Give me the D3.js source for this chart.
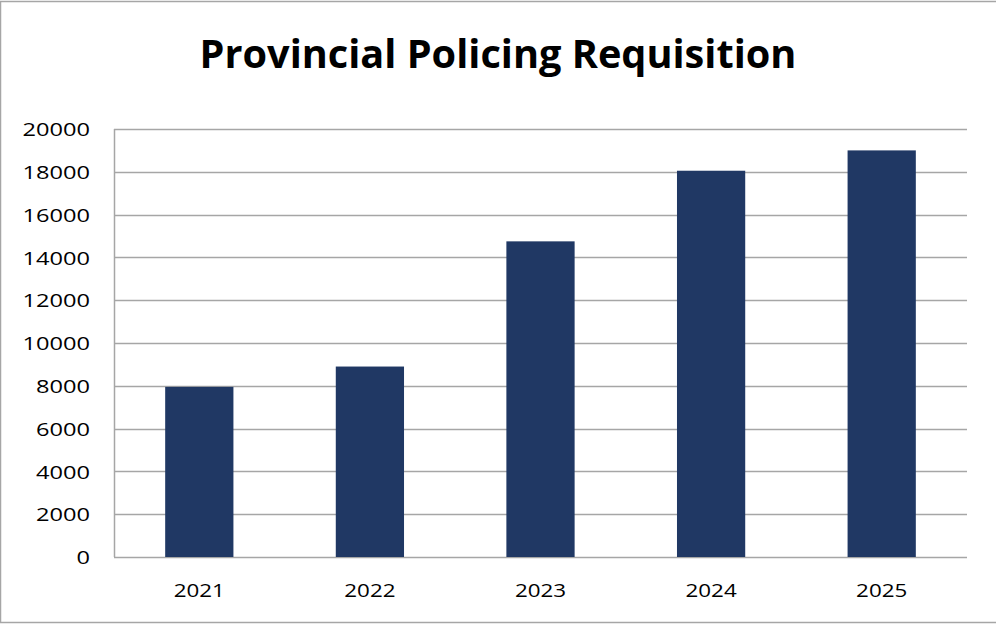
<!DOCTYPE html>
<html>
<head>
<meta charset="utf-8">
<script src="https://cdn.jsdelivr.net/npm/d3@7"></script>
<style>
  body { margin: 0; background: #fff; }
  svg { display: block; font-family: "Open Sans", "Liberation Sans", sans-serif; }
  .axis text { font-family: "Open Sans", sans-serif; font-size: 18px; fill: #000; }
  .axis path, .axis line { stroke: none; }
  .grid line { stroke: #a6a6a6; stroke-width: 1.5; }
</style>
</head>
<body>
<svg id="chart"></svg>
<script>
// Chart data
const years = ['2021', '2022', '2023', '2024', '2025'];
const requisition = [7950, 8900, 14750, 18050, 19000];
const yTicks = [0, 2000, 4000, 6000, 8000, 10000, 12000, 14000, 16000, 18000, 20000];

const width = 996, height = 624;
const margin = { top: 129, right: 29, bottom: 67, left: 114 };
const plotW = width - margin.left - margin.right;
const plotH = height - margin.top - margin.bottom;

const svg = d3.select('#chart')
    .attr('width', width)
    .attr('height', height);

// Outer chart border
svg.append('path')
    .attr('d', `M0.5,${height - 1.5} V1.5 H${width} M0,${height - 1.5} H${width}`)
    .attr('fill', 'none')
    .attr('stroke', '#a6a6a6')
    .attr('stroke-width', 1.5);

// Title, scaled to match the reference width
const title = svg.append('text')
    .attr('x', width / 2)
    .attr('y', 68)
    .attr('text-anchor', 'middle')
    .attr('font-weight', 'bold')
    .attr('font-size', 40)
    .text('Provincial Policing Requisition');
const tw = title.node().getComputedTextLength();
title.attr('font-size', 40 * 597 / tw);

const chart = svg.append('g')
    .attr('transform', `translate(${margin.left},${margin.top})`);

const x = d3.scaleBand()
    .domain(years)
    .range([0, plotW])
    .paddingInner(0.6)
    .paddingOuter(0.3);

const y = d3.scaleLinear()
    .domain([0, 20000])
    .range([plotH, 0]);

// Horizontal gridlines
chart.append('g')
    .attr('class', 'grid')
    .selectAll('line')
    .data(yTicks)
    .enter()
    .append('line')
    .attr('x1', 0)
    .attr('x2', plotW)
    .attr('y1', d => Math.round(y(d)) + 0.5)
    .attr('y2', d => Math.round(y(d)) + 0.5);

// Left axis line
chart.append('line')
    .attr('x1', 0.5).attr('x2', 0.5)
    .attr('y1', 0).attr('y2', plotH)
    .attr('stroke', '#a6a6a6')
    .attr('stroke-width', 1.5);

// Bars
chart.selectAll('.bar')
    .data(years)
    .enter()
    .append('rect')
    .attr('class', 'bar')
    .attr('x', d => x(d))
    .attr('width', x.bandwidth())
    .attr('y', (d, i) => y(requisition[i]))
    .attr('height', (d, i) => plotH - y(requisition[i]))
    .attr('fill', '#203864');

// Axes - labels are stretched wide like the reference
chart.append('g')
    .attr('class', 'axis')
    .call(d3.axisLeft(y).tickValues(yTicks).tickFormat(d3.format('d')).tickSize(0).tickPadding(24))
    .selectAll('text')
    .attr('dy', '0.37em')
    .attr('textLength', function() { return this.textContent.length * 13.5; })
    .attr('lengthAdjust', 'spacingAndGlyphs');

chart.append('g')
    .attr('class', 'axis')
    .attr('transform', `translate(0,${plotH})`)
    .call(d3.axisBottom(x).tickSize(0).tickPadding(27))
    .selectAll('text')
    .attr('textLength', function() { return this.textContent.length * 12.8; })
    .attr('lengthAdjust', 'spacingAndGlyphs');
</script>
</body>
</html>
